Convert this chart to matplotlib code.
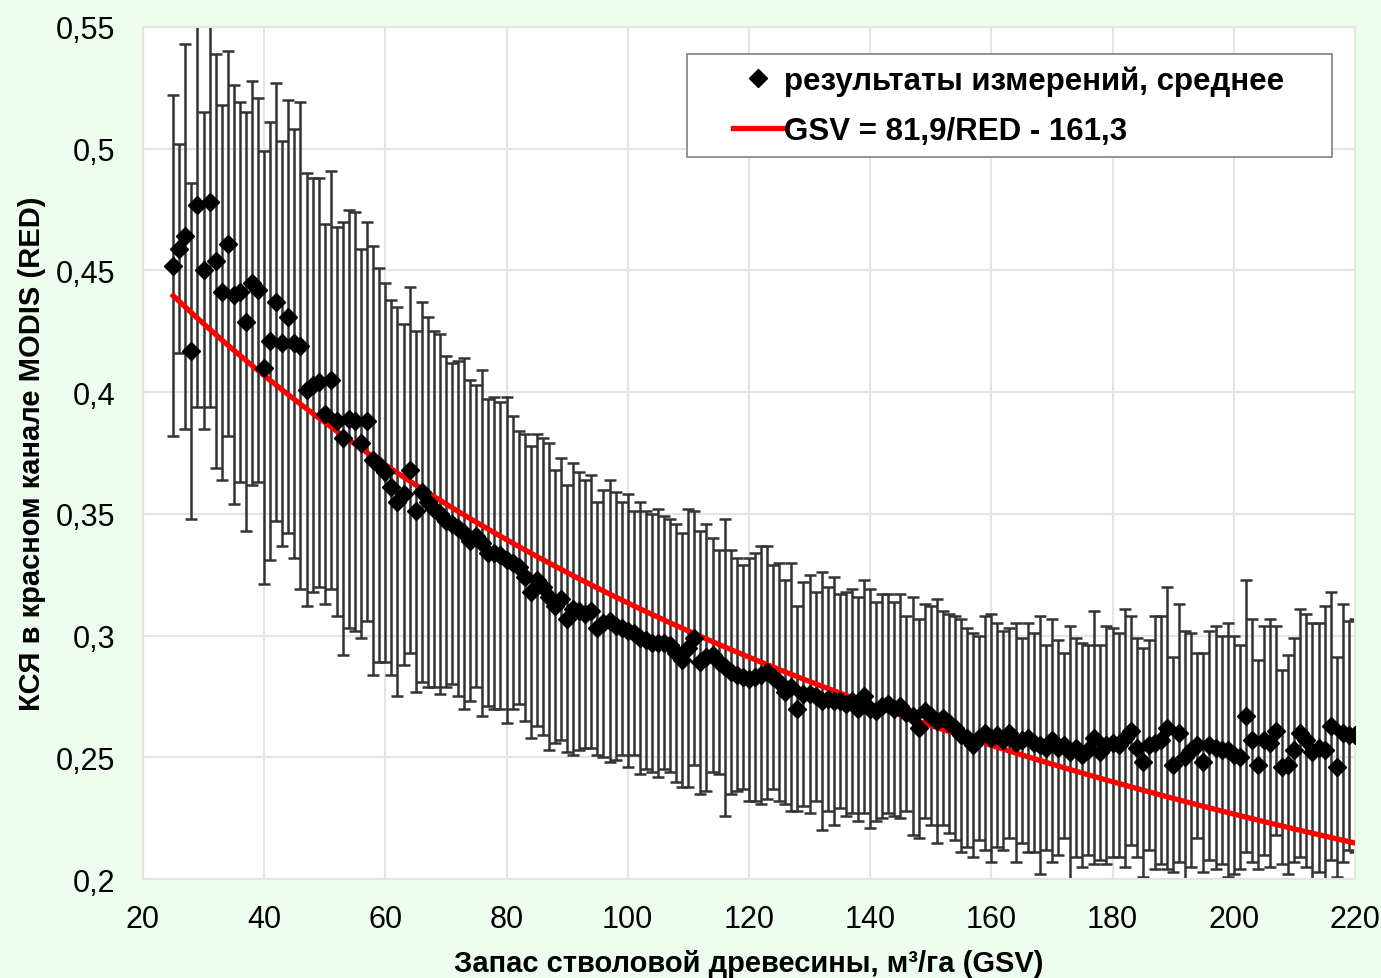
import numpy as np
import matplotlib
matplotlib.use("Agg")
import matplotlib.pyplot as plt
from matplotlib.patches import Rectangle
from matplotlib.ticker import FuncFormatter

plt.rcParams['font.family'] = ['Liberation Sans', 'DejaVu Sans']

# GSV classes, m3/ha
gsv = np.arange(25, 221)

# mean red reflectance for each GSV class
red_mean = [
    0.452, 0.459, 0.464, 0.417, 0.477, 0.450, 0.478, 0.454, 0.441, 0.461,
    0.440, 0.441, 0.429, 0.445, 0.442, 0.410, 0.421, 0.437, 0.420, 0.431,
    0.420, 0.419, 0.401, 0.403, 0.404, 0.391, 0.405, 0.388, 0.381, 0.389,
    0.388, 0.379, 0.388, 0.372, 0.370, 0.367, 0.361, 0.355, 0.358, 0.368,
    0.351, 0.359, 0.355, 0.352, 0.350, 0.347, 0.346, 0.344, 0.342, 0.339,
    0.341, 0.338, 0.334, 0.334, 0.333, 0.331, 0.330, 0.328, 0.324, 0.318,
    0.323, 0.320, 0.316, 0.312, 0.315, 0.307, 0.311, 0.310, 0.309, 0.310,
    0.303, 0.305, 0.306, 0.304, 0.303, 0.302, 0.301, 0.299, 0.298, 0.297,
    0.297, 0.297, 0.296, 0.293, 0.290, 0.295, 0.299, 0.289, 0.291, 0.292,
    0.289, 0.287, 0.285, 0.284, 0.283, 0.282, 0.283, 0.284, 0.285, 0.283,
    0.281, 0.277, 0.279, 0.270, 0.276, 0.276, 0.275, 0.273, 0.274, 0.273,
    0.273, 0.272, 0.273, 0.270, 0.275, 0.270, 0.269, 0.271, 0.272, 0.270,
    0.271, 0.268, 0.267, 0.262, 0.269, 0.267, 0.265, 0.266, 0.264, 0.262,
    0.259, 0.258, 0.255, 0.258, 0.260, 0.258, 0.259, 0.257, 0.260, 0.256,
    0.257, 0.258, 0.256, 0.255, 0.254, 0.257, 0.254, 0.255, 0.252, 0.254,
    0.251, 0.253, 0.258, 0.252, 0.255, 0.256, 0.255, 0.258, 0.261, 0.254,
    0.248, 0.255, 0.256, 0.257, 0.262, 0.247, 0.260, 0.250, 0.253, 0.255,
    0.248, 0.255, 0.254, 0.253, 0.253, 0.251, 0.250, 0.267, 0.257, 0.247,
    0.257, 0.256, 0.261, 0.246, 0.247, 0.253, 0.260, 0.257, 0.252, 0.254,
    0.253, 0.263, 0.246, 0.260, 0.259, 0.259,
]

# standard deviation (error bar half length)
red_std = [
    0.070, 0.043, 0.079, 0.069, 0.083, 0.065, 0.084, 0.085, 0.077, 0.079,
    0.086, 0.078, 0.086, 0.083, 0.079, 0.089, 0.090, 0.090, 0.083, 0.089,
    0.088, 0.100, 0.089, 0.085, 0.084, 0.078, 0.086, 0.080, 0.089, 0.086,
    0.086, 0.080, 0.082, 0.088, 0.081, 0.078, 0.077, 0.080, 0.070, 0.075,
    0.074, 0.078, 0.076, 0.073, 0.074, 0.068, 0.066, 0.069, 0.072, 0.066,
    0.062, 0.071, 0.063, 0.064, 0.063, 0.067, 0.060, 0.056, 0.059, 0.060,
    0.060, 0.061, 0.063, 0.056, 0.058, 0.055, 0.060, 0.057, 0.055, 0.056,
    0.052, 0.055, 0.058, 0.055, 0.052, 0.056, 0.050, 0.056, 0.053, 0.053,
    0.055, 0.052, 0.052, 0.053, 0.052, 0.057, 0.052, 0.054, 0.055, 0.048,
    0.046, 0.061, 0.050, 0.048, 0.046, 0.050, 0.051, 0.053, 0.052, 0.046,
    0.049, 0.046, 0.051, 0.042, 0.046, 0.049, 0.043, 0.053, 0.046, 0.051,
    0.044, 0.046, 0.046, 0.046, 0.048, 0.049, 0.045, 0.046, 0.045, 0.044,
    0.046, 0.040, 0.049, 0.045, 0.044, 0.045, 0.050, 0.044, 0.045, 0.046,
    0.048, 0.045, 0.046, 0.042, 0.048, 0.051, 0.046, 0.045, 0.043, 0.049,
    0.042, 0.047, 0.045, 0.053, 0.042, 0.050, 0.044, 0.038, 0.052, 0.045,
    0.046, 0.043, 0.052, 0.044, 0.049, 0.047, 0.046, 0.053, 0.047, 0.045,
    0.047, 0.043, 0.052, 0.051, 0.058, 0.044, 0.053, 0.052, 0.048, 0.038,
    0.045, 0.047, 0.050, 0.047, 0.052, 0.049, 0.046, 0.056, 0.050, 0.043,
    0.047, 0.051, 0.043, 0.040, 0.045, 0.046, 0.051, 0.052, 0.053, 0.051,
    0.059, 0.055, 0.045, 0.053, 0.047, 0.048,
]

# regression from the legend: GSV = A/RED - B
fit_a = 81.9
fit_b = 161.3
fit_red = fit_a / (gsv + fit_b)

fig = plt.figure(figsize=(13.81, 9.79), dpi=100)
fig.patch.set_facecolor('#eefeee')
ax = fig.add_axes([0.1035, 0.1011, 0.8776, 0.8703])
ax.set_facecolor('white')

ax.errorbar(gsv, red_mean, yerr=red_std, fmt='none', ecolor='#333333',
            elinewidth=1.8, capsize=4.5, capthick=1.8, zorder=2)
line_fit, = ax.plot(gsv, fit_red, color='#ff0000', lw=3.8, zorder=3)
pts, = ax.plot(gsv, red_mean, 'D', color='black', ms=9, zorder=4,
               linestyle='none')

ax.set_xlim(20, 220)
ax.set_ylim(0.2, 0.55)
ax.set_xticks(np.arange(20, 221, 20))
ax.set_yticks(np.arange(0.2, 0.551, 0.05))
ax.yaxis.set_major_formatter(FuncFormatter(lambda v, p: ('%g' % round(v, 2)).replace('.', ',')))
ax.grid(True, color='#e4e4e4', lw=1.5, zorder=0)
ax.set_axisbelow(True)
for s in ax.spines.values():
    s.set_color('#e4e4e4')
    s.set_linewidth(1.5)
ax.tick_params(axis='both', length=0, labelsize=22, colors='black')
ax.tick_params(axis='y', pad=20)
ax.tick_params(axis='x', pad=18)

ax.set_xlabel('Запас стволовой древесины, м³/га (GSV)', fontsize=21,
              fontweight='bold', labelpad=11)
ax.set_ylabel('КСЯ в красном канале MODIS (RED)', fontsize=21,
              fontweight='bold', labelpad=7)

# legend frame drawn separately (wide right margin like the original)
ax.add_patch(Rectangle((0.4488, 0.8474), 0.9810 - 0.4488, 0.9683 - 0.8474,
                       transform=ax.transAxes, facecolor='white',
                       edgecolor='#808080', lw=1.2, zorder=5))
leg = ax.legend([pts, line_fit],
                ['результаты измерений, среднее', 'GSV = 81,9/RED - 161,3'],
                loc='upper left', bbox_to_anchor=(0.479, 0.9660),
                prop={'weight': 'bold', 'size': 22.5}, frameon=False,
                handlelength=1.6, handletextpad=0.05, borderpad=0.3,
                labelspacing=0.64, borderaxespad=0)
leg.set_zorder(6)

fig.savefig('out.png', dpi=100, facecolor=fig.get_facecolor())
